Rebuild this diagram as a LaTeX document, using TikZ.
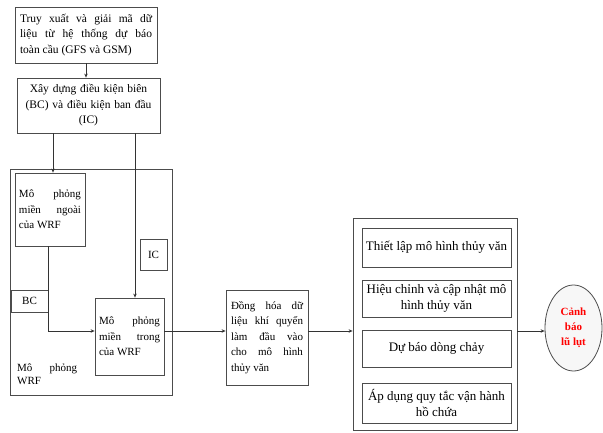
\documentclass[tikz,border=0pt]{standalone}
\usepackage{fontspec}
\setmainfont{Liberation Serif}
\usetikzlibrary{arrows.meta,positioning,shapes.geometric}

\begin{document}
\begin{tikzpicture}[x=1pt,y=-1pt,
    box/.style={draw=black!70,line width=0.8pt,inner sep=0pt,
        font=\fontsize{11}{15.5}\selectfont},
    toptext/.style={font=\fontsize{11.5}{15.5}\selectfont},
    steptext/.style={font=\fontsize{13}{16}\selectfont},
    arr/.style={-{Stealth[length=4pt,width=3.5pt]},draw=black!80,line width=0.7pt}]
    \useasboundingbox (0,0) rectangle (603,433);

    % data source and boundary conditions
    \node[box,toptext,minimum width=142pt,minimum height=56pt,text width=132pt,align=justify] (fetch) at (86,35)
        {Truy xuất và giải mã dữ\linebreak liệu từ hệ thống dự báo\linebreak toàn cầu (GFS và GSM)\hfill\null};
    \node[box,toptext,minimum width=143pt,minimum height=55pt,text width=136pt,align=center] (cond) at (88.5,105.5)
        {Xây dựng điều kiện biên\\ (BC) và điều kiện ban đầu\\ (IC)};

    % WRF block
    \node[box,minimum width=162pt,minimum height=226pt] (wrf) at (91,282) {};
    \node[box,minimum width=70pt,minimum height=73pt,text width=62pt,align=justify] (outer) at (50,209.5)
        {Mô phỏng\linebreak miền ngoài\linebreak của WRF};
    \node[box,minimum width=27pt,minimum height=31pt] (ic) at (153.5,254.5) {IC};
    \node[box,minimum width=37pt,minimum height=22pt] (bc) at (29.5,301) {BC};
    \node[box,minimum width=69pt,minimum height=77pt,text width=61pt,align=justify] (inner) at (129.5,336.5)
        {Mô phỏng\linebreak miền trong\linebreak của WRF};
    \node[font=\fontsize{11}{13}\selectfont,text width=60pt,align=justify,anchor=north west,inner sep=0pt] (wrflbl) at (17,364)
        {Mô phỏng\linebreak WRF};

    % assimilation
    \node[box,minimum width=82pt,minimum height=95pt,text width=72pt,align=justify] (assim) at (267,337.5)
        {Đồng hóa dữ\linebreak liệu khí quyển\linebreak làm đầu vào\linebreak cho mô hình\linebreak thủy văn};

    % hydrological model
    \node[box,minimum width=164pt,minimum height=212pt] (hydro) at (435,324) {};
    \node[box,steptext,minimum width=149pt,minimum height=39pt,align=center] (setup) at (436.5,247.5) {Thiết lập mô hình thủy văn};
    \node[box,steptext,minimum width=149pt,minimum height=37pt,align=center] (calib) at (436.5,298.5) {Hiệu chỉnh và cập nhật mô\\ hình thủy văn};
    \node[box,steptext,minimum width=149pt,minimum height=37pt,align=center] (fcst) at (436.5,348.5) {Dự báo dòng chảy};
    \node[box,steptext,minimum width=149pt,minimum height=40pt,align=center] (rule) at (436.5,403) {Áp dụng quy tắc vận hành\\ hồ chứa};

    % warning
    \node[ellipse,draw=black!70,line width=0.8pt,fill=black!3,inner sep=0pt,minimum width=57pt,minimum height=86pt,
        align=center,text=red,font=\fontsize{11}{15}\selectfont\bfseries] (warn) at (573.5,328)
        {Cảnh\\ báo\\ lũ lụt};

    \coordinate (flow) at (0,331);

    % connectors
    \draw[arr] (fetch.south) -- (fetch.south |- cond.north);
    \draw[arr] ([xshift=3pt]outer.north |- cond.south) -- ([xshift=3pt]outer.north);
    \draw[arr] ([xshift=5.5pt]inner.north |- cond.south) -- ([xshift=5.5pt]inner.north);
    \draw[arr] ([xshift=-2pt]outer.south) |- (inner.west |- flow);
    \draw[arr] (inner.east |- flow) -- (assim.west |- flow);
    \draw[arr] (assim.east |- flow) -- (hydro.west |- flow);
    \draw[arr] (hydro.east |- flow) -- (warn.west |- flow);
\end{tikzpicture}
\end{document}
